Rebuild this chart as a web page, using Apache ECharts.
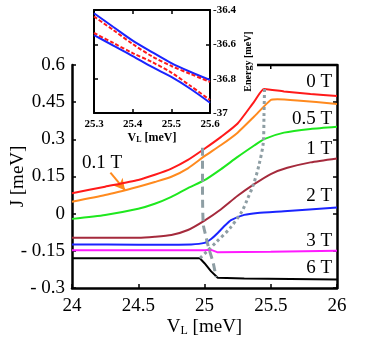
<!DOCTYPE html>
<html>
<head>
<meta charset="utf-8">
<script src="https://cdn.jsdelivr.net/npm/echarts@6/dist/echarts.min.js"></script>
<style>
  html, body { margin: 0; padding: 0; background: #fff; }
  #chart { width: 370px; height: 344px; }
</style>
</head>
<body>
<div id="chart"></div>
<script>
// main panel: J vs V_L for several fields
const field0T = [[24, 0.082], [24.25, 0.109], [24.5, 0.136], [24.625, 0.157], [24.75, 0.182], [24.875, 0.217],
  [25, 0.262], [25.125, 0.310], [25.25, 0.364], [25.375, 0.452], [25.45, 0.503], [25.6, 0.493], [25.8, 0.483], [26, 0.475]]
const field01T = [[24, 0.048], [24.25, 0.075], [24.5, 0.109], [24.625, 0.128], [24.75, 0.149], [24.875, 0.183],
  [25, 0.232], [25.125, 0.277], [25.25, 0.327], [25.375, 0.392], [25.5, 0.459], [25.55, 0.462], [25.7, 0.457], [26, 0.443]]
const field05T = [[24, -0.021], [24.25, -0.005], [24.5, 0.020], [24.625, 0.040], [24.75, 0.068], [24.875, 0.103],
  [25, 0.135], [25.125, 0.180], [25.25, 0.229], [25.375, 0.275], [25.45, 0.301], [25.6, 0.327], [25.8, 0.342], [26, 0.351]]
const field1T = [[24, -0.097], [24.5, -0.097], [24.625, -0.093], [24.75, -0.086], [24.875, -0.066], [25, -0.028],
  [25.125, 0.018], [25.25, 0.072], [25.375, 0.119], [25.5, 0.160], [25.625, 0.185], [25.8, 0.207], [26, 0.223]]
const field2T = [[24, -0.124], [24.5, -0.125], [24.9, -0.124], [25, -0.118], [25.05, -0.102], [25.1, -0.078],
  [25.15, -0.050], [25.2, -0.026], [25.3, -0.005], [25.4, 0.003], [25.6, 0.010], [26, 0.025]]
const field3T = [[24, -0.148], [25, -0.148], [25.05, -0.146], [25.1, -0.156], [25.5, -0.154], [26, -0.150]]
const field6T = [[24, -0.180], [24.965, -0.180], [25, -0.200], [25.05, -0.233], [25.1, -0.259], [25.3, -0.262], [26, -0.266]]
const dashedGuide = [[24.985, 0.266], [24.985, 0.136], [24.99, -0.039], [25.008, -0.086], [25.029, -0.133],
  [25.066, -0.200], [25.087, -0.256]]
const dottedGuide = [[25.453, 0.503], [25.449, 0.398], [25.444, 0.289], [25.411, 0.196], [25.368, 0.116],
  [25.321, 0.055], [25.281, 0.008], [25.192, -0.059], [25.092, -0.113], [25.017, -0.153], [24.966, -0.180]]
const arrow01T = [[24.29, 0.166], [24.40, 0.095]]

const fieldNames = ['0 T', '0.1 T', '0.5 T', '1 T', '2 T', '3 T', '6 T']
const yTickLabels = { '0.6': '0.6', '0.45': '0.45', '0.3': '0.3', '0.15': '0.15', '0': '0', '-0.15': '- 0.15', '-0.3': '- 0.3' }

// inset: energy levels near the anticrossing
const insetV = [25.3, 25.35, 25.4, 25.45, 25.5, 25.55, 25.6]
const upperSolid = [-36.419, -36.499, -36.578, -36.645, -36.709, -36.761, -36.808]
const lowerSolid = [-36.546, -36.607, -36.668, -36.732, -36.790, -36.860, -36.940]
const upperDashed = [-36.438, -36.517, -36.598, -36.670, -36.726, -36.773, -36.819]
const lowerDashed = [-36.534, -36.592, -36.651, -36.703, -36.765, -36.843, -36.924]

const serif = '"Liberation Serif", "Times New Roman", serif'
const colors = ['#ff1a1a', '#ff8a1e', '#1ee81e', '#a52a3c', '#1a24ff', '#ff1aff', '#000000']
const guideColor = '#8e9ea4'

const pair = (xs, ys) => xs.map((x, i) => [x, ys[i]])

const chart = echarts.init(document.getElementById('chart'), null, { renderer: 'canvas' })

const fieldSeries = [field0T, field01T, field05T, field1T, field2T, field3T, field6T].map((d, i) => ({
  name: fieldNames[i],
  type: 'line',
  xAxisIndex: 0,
  yAxisIndex: 0,
  data: d,
  smooth: i >= 5 ? false : 0.2,
  symbol: 'none',
  z: 5,
  lineStyle: { color: colors[i], width: 2 },
  markLine: i === 1 ? {
    silent: true,
    symbol: ['none', 'arrow'],
    symbolSize: [9, 11],
    label: { show: false },
    lineStyle: { color: colors[1], width: 2, type: 'solid' },
    data: [[{ coord: arrow01T[0] }, { coord: arrow01T[1] }]],
  } : undefined,
}))

const axisFont = { fontFamily: serif, color: '#000' }
const tick = { inside: true, length: 4, lineStyle: { color: '#000', width: 1.5 } }

const option = {
  animation: false,
  backgroundColor: '#fff',
  grid: [
    { left: 72, right: 33, top: 65, bottom: 56, outerBoundsMode: 'none', containLabel: false },
    { left: 94, top: 10, width: 116, height: 103, show: true, backgroundColor: '#fff', borderWidth: 0, z: 10,
      outerBoundsMode: 'none', containLabel: false },
  ],
  xAxis: [
    {
      gridIndex: 0, type: 'value', min: 24, max: 26, interval: 0.5,
      axisLine: { onZero: false, lineStyle: { color: '#000', width: 2.5 } },
      axisTick: tick,
      splitLine: { show: false },
      axisLabel: { ...axisFont, fontSize: 19, margin: 9 },
      name: '{v|V}{s|L}{v| [meV]}',
      nameLocation: 'middle', nameGap: 30, nameMoveOverlap: false,
      nameTextStyle: {
        rich: {
          v: { fontSize: 19, fontFamily: serif, color: '#000' },
          s: { fontSize: 12, fontFamily: serif, color: '#000', lineHeight: 8, verticalAlign: 'bottom' },
        },
      },
    },
    {
      gridIndex: 1, type: 'value', min: 25.3, max: 25.6, interval: 0.1, z: 11,
      axisLine: { onZero: false, lineStyle: { color: '#000', width: 2 } },
      axisTick: tick,
      splitLine: { show: false },
      axisLabel: { ...axisFont, fontSize: 11, fontWeight: 'bold', margin: 6 },
      name: '{v|V}{s|L}{v| [meV]}',
      nameLocation: 'middle', nameGap: 19, nameMoveOverlap: false,
      nameTextStyle: {
        rich: {
          v: { fontSize: 12, fontWeight: 'bold', fontFamily: serif, color: '#000' },
          s: { fontSize: 8, fontWeight: 'bold', fontFamily: serif, color: '#000', lineHeight: 6, verticalAlign: 'bottom' },
        },
      },
    },
    {
      gridIndex: 1, type: 'value', min: 25.3, max: 25.6, interval: 0.1, position: 'top', z: 11,
      axisLine: { onZero: false, lineStyle: { color: '#000', width: 2 } },
      axisTick: tick,
      splitLine: { show: false },
      axisLabel: { show: false },
    },
  ],
  yAxis: [
    {
      gridIndex: 0, type: 'value', min: -0.3, max: 0.6, interval: 0.15,
      axisLine: { onZero: false, lineStyle: { color: '#000', width: 2.5 } },
      axisTick: tick,
      splitLine: { show: false },
      axisLabel: {
        ...axisFont, fontSize: 19, margin: 7,
        formatter: v => yTickLabels[String(+v.toFixed(2))] ?? '',
      },
      name: 'J [meV]', nameLocation: 'middle', nameGap: 44, nameRotate: 90, nameMoveOverlap: false,
      nameTextStyle: { ...axisFont, fontSize: 19 },
    },
    {
      gridIndex: 0, type: 'value', min: -0.3, max: 0.6, interval: 0.15, position: 'right',
      axisLine: { onZero: false, lineStyle: { color: '#000', width: 2.5 } },
      axisTick: tick,
      splitLine: { show: false },
      axisLabel: { show: false },
    },
    {
      gridIndex: 1, type: 'value', min: -37, max: -36.4, interval: 0.2, position: 'right', z: 11,
      axisLine: { onZero: false, lineStyle: { color: '#000', width: 2 } },
      axisTick: tick,
      splitLine: { show: false },
      axisLabel: { ...axisFont, fontSize: 11, fontWeight: 'bold', margin: 3, formatter: v => String(+v.toFixed(1)) },
      name: 'Energy [meV]', nameLocation: 'middle', nameGap: 33, nameRotate: 90, nameMoveOverlap: false,
      nameTextStyle: { ...axisFont, fontSize: 10, fontWeight: 'bold' },
    },
    {
      gridIndex: 1, type: 'value', min: -37, max: -36.4, interval: 0.2, position: 'left', z: 11,
      axisLine: { onZero: false, lineStyle: { color: '#000', width: 2 } },
      axisTick: tick,
      splitLine: { show: false },
      axisLabel: { show: false },
    },
  ],
  graphic: [
    // top frame of the main panel, visible only right of the inset
    { type: 'line', shape: { x1: 257, y1: 65, x2: 337, y2: 65 }, style: { stroke: '#000', lineWidth: 2.5 }, z: 20 },
    { type: 'line', shape: { x1: 270.75, y1: 65, x2: 270.75, y2: 69 }, style: { stroke: '#000', lineWidth: 1.5 }, z: 20 },
    ...[['0 T', 82], ['0.5 T', 119], ['1 T', 149], ['2 T', 196], ['3 T', 241], ['6 T', 268]].map(([t, y]) => ({
      type: 'text', x: 332, y, z: 20,
      style: { text: t, font: '19px ' + serif, fill: '#000', align: 'right', verticalAlign: 'middle' },
    })),
    { type: 'text', x: 82, y: 163, z: 20,
      style: { text: '0.1 T', font: '19px ' + serif, fill: '#000', align: 'left', verticalAlign: 'middle' } },
  ],
  series: [
    {
      type: 'line', xAxisIndex: 0, yAxisIndex: 0, data: dashedGuide, smooth: 0.3, symbol: 'none', z: 6,
      lineStyle: { color: guideColor, width: 3, type: [8, 5] },
    },
    {
      type: 'line', xAxisIndex: 0, yAxisIndex: 0, data: dottedGuide, smooth: 0.3, symbol: 'none', z: 6,
      lineStyle: { color: guideColor, width: 3, type: [3, 3] },
    },
    ...fieldSeries,
    {
      type: 'line', xAxisIndex: 1, yAxisIndex: 2, data: pair(insetV, upperSolid), smooth: 0.3, symbol: 'none', z: 12,
      lineStyle: { color: '#1a24ff', width: 2 },
    },
    {
      type: 'line', xAxisIndex: 1, yAxisIndex: 2, data: pair(insetV, lowerSolid), smooth: 0.3, symbol: 'none', z: 12,
      lineStyle: { color: '#1a24ff', width: 2 },
    },
    {
      type: 'line', xAxisIndex: 1, yAxisIndex: 2, data: pair(insetV, upperDashed), smooth: 0.3, symbol: 'none', z: 13,
      lineStyle: { color: '#ff1a1a', width: 2, type: [4, 2] },
    },
    {
      type: 'line', xAxisIndex: 1, yAxisIndex: 2, data: pair(insetV, lowerDashed), smooth: 0.3, symbol: 'none', z: 13,
      lineStyle: { color: '#ff1a1a', width: 2, type: [4, 2] },
    },
  ],
}

chart.setOption(option)
</script>
</body>
</html>
